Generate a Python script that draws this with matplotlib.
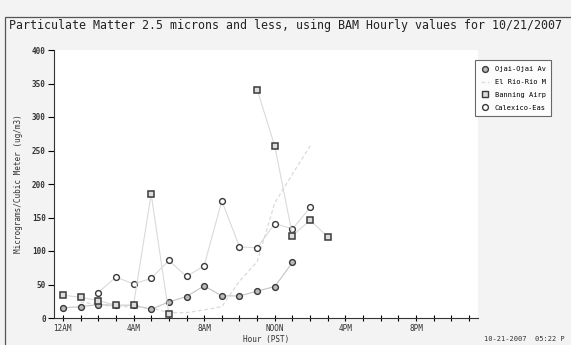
import numpy as np
import matplotlib.pyplot as plt
from matplotlib.lines import Line2D

nan = np.nan

# -----------------------------
# Hourly PM2.5 values (ug/m3), hour 0 = 12AM
# -----------------------------
hours = np.arange(15)
ojai = [15, 17, 20, 19, 19, 13, 24, 32, 48, 33, 33, 40, 47, 83, nan]
el_rio = [nan, 24, 20, 17, 17, 15, 8, 8, 12, 17, 55, 84, 172, 215, 257]
banning = [34, 31, 26, 19, 19, 185, 6, nan, nan, nan, nan, 341, 256, 123, 146]
banning_15 = 121  # last Banning reading at 3PM
calexico = [nan, nan, 38, 61, 51, 59, 86, 62, 78, 175, 106, 105, 141, 133, 165]

site_names = ["Ojai-Ojai Av", "El Rio-Rio M", "Banning Airp", "Calexico-Eas"]
x_tick_pos = [0, 4, 8, 12, 16, 20]
x_tick_labels = ["12AM", "4AM", "8AM", "NOON", "4PM", "8PM"]
y_ticks = [0, 50, 100, 150, 200, 250, 300, 350, 400]

mono = "DejaVu Sans Mono"
ink = "#3a3a3a"
faint = "#dadada"

fig = plt.figure(figsize=(5.71, 3.45), dpi=100)
fig.patch.set_facecolor("#f3f3f3")

# frame around the chart area
fig.add_artist(plt.Rectangle((5 / 571, -0.01), 1.0, 1 - 17 / 345 + 0.01,
                             transform=fig.transFigure, fill=False,
                             edgecolor="#555555", linewidth=0.9))
fig.text(9 / 571, 1 - 26 / 345, "Particulate Matter 2.5 microns and less, using BAM Hourly values for 10/21/2007",
         family=mono, fontsize=8.35, color="#222222", va="center", ha="left")

ax = fig.add_axes([54 / 571, 1 - 318 / 345, (478 - 54) / 571, (318 - 50) / 345])
ax.set_facecolor("white")

# -----------------------------
# Series
# -----------------------------
ax.plot(hours, el_rio, color=faint, linestyle=(0, (3, 2)), linewidth=0.9)
ax.plot(hours, calexico, color=faint, linewidth=0.8, marker="o", markersize=4.2,
        markerfacecolor="white", markeredgecolor=ink, markeredgewidth=1.0)
ax.plot(hours, ojai, color="#c4c4c4", linewidth=0.8, marker="o", markersize=4.2,
        markerfacecolor="#bbbbbb", markeredgecolor=ink, markeredgewidth=1.0)
banning_all = banning + [banning_15]
ax.plot(np.arange(len(banning_all)), banning_all, color=faint, linewidth=0.8,
        marker="s", markersize=4.0, markerfacecolor="#dddddd",
        markeredgecolor=ink, markeredgewidth=1.1)

# -----------------------------
# Axes styling
# -----------------------------
ax.set_xlim(-0.5, 23.5)
ax.set_ylim(0, 400)
ax.spines["top"].set_visible(False)
ax.spines["right"].set_visible(False)
ax.spines["left"].set_color("#333333")
ax.spines["bottom"].set_color("#333333")

ax.set_yticks(y_ticks)
ax.set_yticklabels([str(v) for v in y_ticks], family=mono, fontsize=5.5,
                   fontweight="bold", color="#333333")
ax.set_xticks(x_tick_pos)
ax.set_xticklabels(x_tick_labels, family=mono, fontsize=5.5, color="#333333")
ax.set_xticks(np.arange(24), minor=True)
ax.tick_params(axis="x", which="both", direction="inout", length=5, width=0.8, pad=2)
ax.tick_params(axis="y", direction="out", length=4, width=0.8, pad=2)

ax.set_xlabel("Hour (PST)", family=mono, fontsize=5.5, color="#333333", labelpad=1)
ax.set_ylabel("Micrograms/Cubic Meter (ug/m3)", family=mono, fontsize=5.5,
              color="#333333", labelpad=6)

# -----------------------------
# Legend
# -----------------------------
handles = [
    Line2D([], [], linestyle="none", marker="o", markersize=4.2,
           markerfacecolor="#bbbbbb", markeredgecolor=ink),
    Line2D([], [], color=faint, linestyle=(0, (3, 2)), linewidth=0.9),
    Line2D([], [], linestyle="none", marker="s", markersize=4.0,
           markerfacecolor="#dddddd", markeredgecolor=ink),
    Line2D([], [], linestyle="none", marker="o", markersize=4.2,
           markerfacecolor="white", markeredgecolor=ink),
]
leg = fig.legend(handles, site_names, loc="upper left",
                 bbox_to_anchor=(472 / 571, 1 - 57 / 345),
                 prop={"family": mono, "size": 5}, frameon=True, fancybox=False,
                 edgecolor="#444444", handlelength=1.2, handletextpad=0.8,
                 labelspacing=1.0, borderpad=0.8)
leg.get_frame().set_linewidth(0.8)

fig.text(484 / 571, 1 - 339 / 345, "10-21-2007  05:22 P", family=mono,
         fontsize=5, color="#333333", va="center", ha="left")

plt.savefig("out.png", dpi=100, facecolor=fig.get_facecolor())
plt.close()
